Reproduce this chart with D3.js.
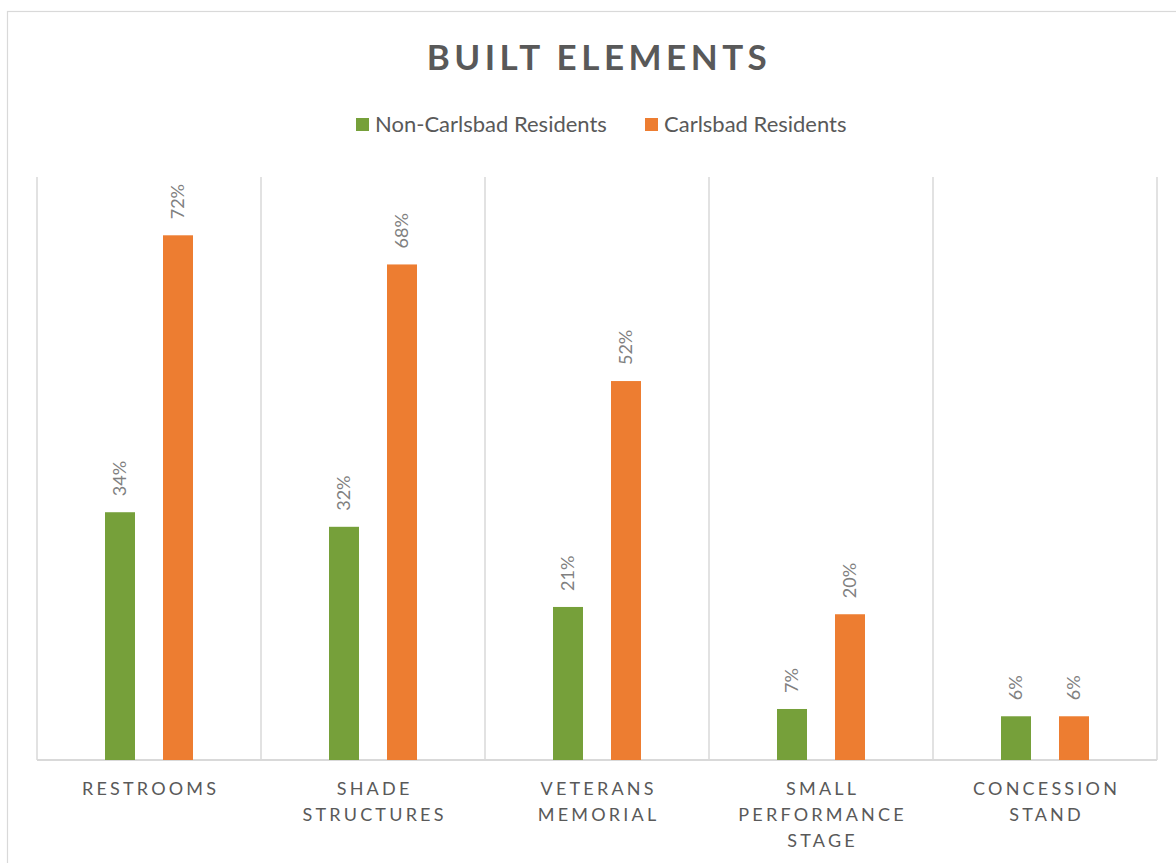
<!DOCTYPE html>
<html>
<head>
<meta charset="utf-8">
<script src="https://cdn.jsdelivr.net/npm/d3@7"></script>
<style>
  body { margin: 0; background: #fff; }
  text { font-family: Lato, "Open Sans", sans-serif; }
</style>
</head>
<body>
<div id="chart"></div>
<script>
var categories = ["Restrooms", "Shade Structures", "Veterans Memorial", "Small Performance Stage", "Concession Stand"];
var seriesNames = ["Non-Carlsbad Residents", "Carlsbad Residents"];
var nonCarlsbad = [34, 32, 21, 7, 6];
var carlsbad = [72, 68, 52, 20, 6];
var colors = ["#76A03A", "#ED7D31"];

var width = 1176, height = 863;
var plot = { left: 37, right: 1157, top: 177, bottom: 760 };

var svg = d3.select("#chart")
  .append("svg")
  .attr("width", width)
  .attr("height", height);

// outer chart border
svg.append("rect")
  .attr("x", 7.5)
  .attr("y", 11.5)
  .attr("width", 1200)
  .attr("height", 900)
  .attr("fill", "#fff")
  .attr("stroke", "#d9d9d9")
  .attr("stroke-width", 1.2);

var x0 = d3.scaleBand()
  .domain(categories)
  .range([plot.left, plot.right]);

var x1 = d3.scaleBand()
  .domain(seriesNames)
  .range([68, 156])
  .paddingInner(28 / 58);

var y = d3.scaleLinear()
  .domain([0, 80])
  .range([plot.bottom, plot.top]);

var color = d3.scaleOrdinal().domain(seriesNames).range(colors);

// vertical category separators
var seps = categories.map(function(c) { return x0(c); }).concat([plot.right]);
svg.append("g")
  .selectAll("line")
  .data(seps)
  .enter()
  .append("line")
  .attr("x1", function(d) { return d; })
  .attr("x2", function(d) { return d; })
  .attr("y1", plot.top)
  .attr("y2", plot.bottom)
  .attr("stroke", "#d9d9d9")
  .attr("stroke-width", 1.5);

// baseline
svg.append("line")
  .attr("x1", plot.left)
  .attr("x2", plot.right)
  .attr("y1", y(0))
  .attr("y2", y(0))
  .attr("stroke", "#d9d9d9")
  .attr("stroke-width", 2);

var rows = categories.map(function(c, i) {
  return { cat: c, values: [
    { key: seriesNames[0], value: nonCarlsbad[i] },
    { key: seriesNames[1], value: carlsbad[i] }
  ] };
});

var groups = svg.append("g")
  .selectAll("g")
  .data(rows)
  .enter()
  .append("g")
  .attr("transform", function(d) { return "translate(" + x0(d.cat) + ",0)"; });

groups.selectAll("rect")
  .data(function(d) { return d.values; })
  .enter()
  .append("rect")
  .attr("x", function(d) { return x1(d.key); })
  .attr("width", x1.bandwidth())
  .attr("y", function(d) { return y(d.value); })
  .attr("height", function(d) { return y(0) - y(d.value); })
  .attr("fill", function(d) { return color(d.key); });

// rotated value labels
groups.selectAll("text.val")
  .data(function(d) { return d.values; })
  .enter()
  .append("text")
  .attr("class", "val")
  .attr("transform", function(d) {
    return "translate(" + (x1(d.key) + x1.bandwidth() / 2) + "," + (y(d.value) - 16) + ") rotate(-90)";
  })
  .attr("dy", "0.36em")
  .attr("text-anchor", "start")
  .attr("fill", "#808080")
  .style("font-size", "18px")
  .text(function(d) { return d.value + "%"; });

// category labels, wrapped like Excel
var catLabels = svg.append("g")
  .selectAll("text")
  .data(categories)
  .enter()
  .append("text")
  .attr("x", function(d) { return x0(d) + x0.bandwidth() / 2 + 1.6; })
  .attr("y", 795)
  .attr("text-anchor", "middle")
  .attr("fill", "#595959")
  .style("font-size", "18px")
  .style("letter-spacing", "3.2px");

catLabels.each(function(d) {
  var el = d3.select(this);
  var words = d.toUpperCase().split(" ");
  var lines = [];
  var cur = [];
  var probe = el.append("tspan");
  words.forEach(function(w) {
    var test = cur.concat([w]).join(" ");
    probe.text(test);
    if (cur.length && probe.node().getComputedTextLength() > 185) {
      lines.push(cur.join(" "));
      cur = [w];
    } else {
      cur.push(w);
    }
  });
  lines.push(cur.join(" "));
  probe.remove();
  lines.forEach(function(l, i) {
    el.append("tspan")
      .attr("x", el.attr("x"))
      .attr("y", 795 + i * 26)
      .text(l);
  });
});

// title
svg.append("text")
  .attr("x", 599)
  .attr("y", 70)
  .attr("text-anchor", "middle")
  .attr("fill", "#595959")
  .style("font-size", "35px")
  .style("font-weight", "bold")
  .style("letter-spacing", "4.5px")
  .text("BUILT ELEMENTS");

// legend
var legendX = [356, 645];
var legend = svg.append("g")
  .selectAll("g")
  .data(seriesNames)
  .enter()
  .append("g")
  .attr("transform", function(d, i) { return "translate(" + legendX[i] + ",0)"; });

legend.append("rect")
  .attr("x", 0)
  .attr("y", 118)
  .attr("width", 13)
  .attr("height", 13)
  .attr("fill", function(d) { return color(d); });

legend.append("text")
  .attr("x", 19)
  .attr("y", 132)
  .attr("fill", "#595959")
  .style("font-size", "22px")
  .text(function(d) { return d; });
</script>
</body>
</html>
